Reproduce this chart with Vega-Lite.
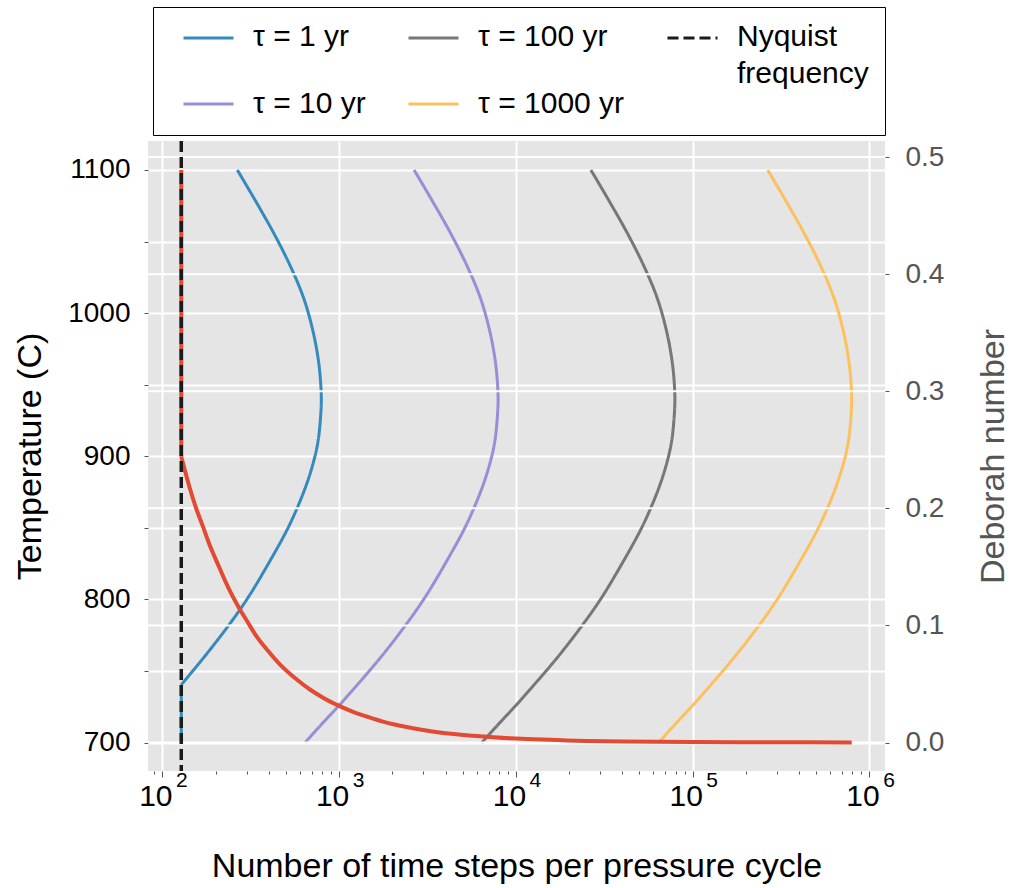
{
  "$schema": "https://vega.github.io/schema/vega-lite/v6.json",
  "width": 737,
  "height": 630,
  "autosize": "none",
  "padding": {"left": 148, "top": 141, "right": 129, "bottom": 117},
  "background": "white",
  "config": {
    "view": {"fill": "#E5E5E5", "stroke": null},
    "font": "Liberation Sans"
  },
  "datasets": {
    "curves": [
      {"series": "τ = 1 yr", "part": "curve", "temperature": 1100, "steps": 265.5},
      {"series": "τ = 1 yr", "part": "curve", "temperature": 1076.7, "steps": 342.8},
      {"series": "τ = 1 yr", "part": "curve", "temperature": 1053.4, "steps": 437.5},
      {"series": "τ = 1 yr", "part": "curve", "temperature": 1030.2, "steps": 542},
      {"series": "τ = 1 yr", "part": "curve", "temperature": 1009.2, "steps": 635.3},
      {"series": "τ = 1 yr", "part": "curve", "temperature": 985.9, "steps": 716.1},
      {"series": "τ = 1 yr", "part": "curve", "temperature": 965, "steps": 767.4},
      {"series": "τ = 1 yr", "part": "curve", "temperature": 948.6, "steps": 789},
      {"series": "τ = 1 yr", "part": "curve", "temperature": 939, "steps": 793},
      {"series": "τ = 1 yr", "part": "curve", "temperature": 930, "steps": 788},
      {"series": "τ = 1 yr", "part": "curve", "temperature": 911.4, "steps": 762.1},
      {"series": "τ = 1 yr", "part": "curve", "temperature": 897.4, "steps": 721.1},
      {"series": "τ = 1 yr", "part": "curve", "temperature": 881.2, "steps": 657.7},
      {"series": "τ = 1 yr", "part": "curve", "temperature": 864.8, "steps": 583.4},
      {"series": "τ = 1 yr", "part": "curve", "temperature": 848.5, "steps": 507},
      {"series": "τ = 1 yr", "part": "curve", "temperature": 827.6, "steps": 409.3},
      {"series": "τ = 1 yr", "part": "curve", "temperature": 801.9, "steps": 307.6},
      {"series": "τ = 1 yr", "part": "curve", "temperature": 782.2, "steps": 238.2},
      {"series": "τ = 1 yr", "part": "curve", "temperature": 760, "steps": 173},
      {"series": "τ = 1 yr", "part": "curve", "temperature": 740.4, "steps": 128},
      {"series": "τ = 1 yr", "part": "clip", "temperature": 740.4, "steps": 128},
      {"series": "τ = 1 yr", "part": "clip", "temperature": 700, "steps": 128},

      {"series": "τ = 10 yr", "part": "curve", "temperature": 1100, "steps": 2655},
      {"series": "τ = 10 yr", "part": "curve", "temperature": 1076.7, "steps": 3428},
      {"series": "τ = 10 yr", "part": "curve", "temperature": 1053.4, "steps": 4375},
      {"series": "τ = 10 yr", "part": "curve", "temperature": 1030.2, "steps": 5420},
      {"series": "τ = 10 yr", "part": "curve", "temperature": 1009.2, "steps": 6353},
      {"series": "τ = 10 yr", "part": "curve", "temperature": 985.9, "steps": 7161},
      {"series": "τ = 10 yr", "part": "curve", "temperature": 965, "steps": 7674},
      {"series": "τ = 10 yr", "part": "curve", "temperature": 948.6, "steps": 7890},
      {"series": "τ = 10 yr", "part": "curve", "temperature": 939, "steps": 7930},
      {"series": "τ = 10 yr", "part": "curve", "temperature": 930, "steps": 7880},
      {"series": "τ = 10 yr", "part": "curve", "temperature": 911.4, "steps": 7621},
      {"series": "τ = 10 yr", "part": "curve", "temperature": 897.4, "steps": 7211},
      {"series": "τ = 10 yr", "part": "curve", "temperature": 881.2, "steps": 6577},
      {"series": "τ = 10 yr", "part": "curve", "temperature": 864.8, "steps": 5834},
      {"series": "τ = 10 yr", "part": "curve", "temperature": 848.5, "steps": 5070},
      {"series": "τ = 10 yr", "part": "curve", "temperature": 827.6, "steps": 4093},
      {"series": "τ = 10 yr", "part": "curve", "temperature": 801.9, "steps": 3076},
      {"series": "τ = 10 yr", "part": "curve", "temperature": 782.2, "steps": 2382},
      {"series": "τ = 10 yr", "part": "curve", "temperature": 760, "steps": 1730},
      {"series": "τ = 10 yr", "part": "curve", "temperature": 741.4, "steps": 1288},
      {"series": "τ = 10 yr", "part": "curve", "temperature": 726.3, "steps": 1005},
      {"series": "τ = 10 yr", "part": "curve", "temperature": 713.5, "steps": 805},
      {"series": "τ = 10 yr", "part": "curve", "temperature": 700, "steps": 641},

      {"series": "τ = 100 yr", "part": "curve", "temperature": 1100, "steps": 26550},
      {"series": "τ = 100 yr", "part": "curve", "temperature": 1076.7, "steps": 34280},
      {"series": "τ = 100 yr", "part": "curve", "temperature": 1053.4, "steps": 43750},
      {"series": "τ = 100 yr", "part": "curve", "temperature": 1030.2, "steps": 54200},
      {"series": "τ = 100 yr", "part": "curve", "temperature": 1009.2, "steps": 63530},
      {"series": "τ = 100 yr", "part": "curve", "temperature": 985.9, "steps": 71610},
      {"series": "τ = 100 yr", "part": "curve", "temperature": 965, "steps": 76740},
      {"series": "τ = 100 yr", "part": "curve", "temperature": 948.6, "steps": 78900},
      {"series": "τ = 100 yr", "part": "curve", "temperature": 939, "steps": 79300},
      {"series": "τ = 100 yr", "part": "curve", "temperature": 930, "steps": 78800},
      {"series": "τ = 100 yr", "part": "curve", "temperature": 911.4, "steps": 76210},
      {"series": "τ = 100 yr", "part": "curve", "temperature": 897.4, "steps": 72110},
      {"series": "τ = 100 yr", "part": "curve", "temperature": 881.2, "steps": 65770},
      {"series": "τ = 100 yr", "part": "curve", "temperature": 864.8, "steps": 58340},
      {"series": "τ = 100 yr", "part": "curve", "temperature": 848.5, "steps": 50700},
      {"series": "τ = 100 yr", "part": "curve", "temperature": 827.6, "steps": 40930},
      {"series": "τ = 100 yr", "part": "curve", "temperature": 801.9, "steps": 30760},
      {"series": "τ = 100 yr", "part": "curve", "temperature": 782.2, "steps": 23820},
      {"series": "τ = 100 yr", "part": "curve", "temperature": 760, "steps": 17300},
      {"series": "τ = 100 yr", "part": "curve", "temperature": 741.4, "steps": 12880},
      {"series": "τ = 100 yr", "part": "curve", "temperature": 726.3, "steps": 10050},
      {"series": "τ = 100 yr", "part": "curve", "temperature": 713.5, "steps": 8050},
      {"series": "τ = 100 yr", "part": "curve", "temperature": 700, "steps": 6410},

      {"series": "τ = 1000 yr", "part": "curve", "temperature": 1100, "steps": 265500},
      {"series": "τ = 1000 yr", "part": "curve", "temperature": 1076.7, "steps": 342800},
      {"series": "τ = 1000 yr", "part": "curve", "temperature": 1053.4, "steps": 437500},
      {"series": "τ = 1000 yr", "part": "curve", "temperature": 1030.2, "steps": 542000},
      {"series": "τ = 1000 yr", "part": "curve", "temperature": 1009.2, "steps": 635300},
      {"series": "τ = 1000 yr", "part": "curve", "temperature": 985.9, "steps": 716100},
      {"series": "τ = 1000 yr", "part": "curve", "temperature": 965, "steps": 767400},
      {"series": "τ = 1000 yr", "part": "curve", "temperature": 948.6, "steps": 789000},
      {"series": "τ = 1000 yr", "part": "curve", "temperature": 939, "steps": 793000},
      {"series": "τ = 1000 yr", "part": "curve", "temperature": 930, "steps": 788000},
      {"series": "τ = 1000 yr", "part": "curve", "temperature": 911.4, "steps": 762100},
      {"series": "τ = 1000 yr", "part": "curve", "temperature": 897.4, "steps": 721100},
      {"series": "τ = 1000 yr", "part": "curve", "temperature": 881.2, "steps": 657700},
      {"series": "τ = 1000 yr", "part": "curve", "temperature": 864.8, "steps": 583400},
      {"series": "τ = 1000 yr", "part": "curve", "temperature": 848.5, "steps": 507000},
      {"series": "τ = 1000 yr", "part": "curve", "temperature": 827.6, "steps": 409300},
      {"series": "τ = 1000 yr", "part": "curve", "temperature": 801.9, "steps": 307600},
      {"series": "τ = 1000 yr", "part": "curve", "temperature": 782.2, "steps": 238200},
      {"series": "τ = 1000 yr", "part": "curve", "temperature": 760, "steps": 173000},
      {"series": "τ = 1000 yr", "part": "curve", "temperature": 741.4, "steps": 128800},
      {"series": "τ = 1000 yr", "part": "curve", "temperature": 726.3, "steps": 100500},
      {"series": "τ = 1000 yr", "part": "curve", "temperature": 713.5, "steps": 80500},
      {"series": "τ = 1000 yr", "part": "curve", "temperature": 700, "steps": 64100}
    ],
    "deborah": [
      {"part": "clip", "steps": 128, "deborah": 0.489},
      {"part": "clip", "steps": 128, "deborah": 0.244},
      {"part": "curve", "steps": 128, "deborah": 0.244},
      {"part": "curve", "steps": 143.5, "deborah": 0.2165},
      {"part": "curve", "steps": 155, "deborah": 0.2005},
      {"part": "curve", "steps": 170.6, "deborah": 0.1835},
      {"part": "curve", "steps": 185, "deborah": 0.169},
      {"part": "curve", "steps": 203.2, "deborah": 0.1545},
      {"part": "curve", "steps": 235, "deborah": 0.133},
      {"part": "curve", "steps": 269.2, "deborah": 0.116},
      {"part": "curve", "steps": 305, "deborah": 0.1025},
      {"part": "curve", "steps": 342, "deborah": 0.0905},
      {"part": "curve", "steps": 390, "deborah": 0.0795},
      {"part": "curve", "steps": 463.4, "deborah": 0.0665},
      {"part": "curve", "steps": 560, "deborah": 0.0553},
      {"part": "curve", "steps": 683.9, "deborah": 0.0453},
      {"part": "curve", "steps": 830, "deborah": 0.0375},
      {"part": "curve", "steps": 1002, "deborah": 0.0313},
      {"part": "curve", "steps": 1220, "deborah": 0.0257},
      {"part": "curve", "steps": 1496, "deborah": 0.0213},
      {"part": "curve", "steps": 2000, "deborah": 0.0158},
      {"part": "curve", "steps": 2871, "deborah": 0.0111},
      {"part": "curve", "steps": 3900, "deborah": 0.0081},
      {"part": "curve", "steps": 5741, "deborah": 0.0058},
      {"part": "curve", "steps": 9268, "deborah": 0.0036},
      {"part": "curve", "steps": 19360, "deborah": 0.0018},
      {"part": "curve", "steps": 40000, "deborah": 0.0009},
      {"part": "curve", "steps": 100000, "deborah": 0.0004},
      {"part": "curve", "steps": 300000, "deborah": 0.0002},
      {"part": "curve", "steps": 793000, "deborah": 0.0001}
    ],
    "deborahTicks": [
      {"deborah": 0}, {"deborah": 0.1}, {"deborah": 0.2},
      {"deborah": 0.3}, {"deborah": 0.4}, {"deborah": 0.5}
    ],
    "nyquist": [
      {"series": "Nyquist frequency", "steps": 128}
    ]
  },
  "layer": [
    {
      "data": {"name": "curves"},
      "mark": {"type": "line", "strokeWidth": 3, "interpolate": "catmull-rom"},
      "encoding": {
        "x": {
          "field": "steps", "type": "quantitative",
          "scale": {"type": "log", "domain": [82.99, 1224000], "nice": false},
          "axis": {
            "values": [90, 100, 200, 300, 400, 500, 600, 700, 800, 900, 1000, 2000, 3000, 4000, 5000, 6000, 7000, 8000, 9000, 10000, 20000, 30000, 40000, 50000, 60000, 70000, 80000, 90000, 100000, 200000, 300000, 400000, 500000, 600000, 700000, 800000, 900000, 1000000],
            "labelExpr": "indexof([100, 1000, 10000, 100000, 1000000], datum.value) >= 0 ? '10' : ''",
            "labelOverlap": false,
            "labelFlush": false,
            "labelFontSize": 30,
            "labelColor": "black",
            "labelPadding": 4,
            "labelOffset": -7,
            "domain": false,
            "grid": true,
            "gridColor": "white",
            "gridWidth": 2,
            "gridOpacity": {"condition": {"test": "indexof([100, 1000, 10000, 100000, 1000000], datum.value) >= 0", "value": 1}, "value": 0},
            "tickSize": {"condition": {"test": "indexof([100, 1000, 10000, 100000, 1000000], datum.value) >= 0", "value": 6}, "value": 3},
            "tickColor": "#555555",
            "title": "Number of time steps per pressure cycle",
            "titleFontSize": 34,
            "titleFontWeight": "normal",
            "titleColor": "black",
            "titlePadding": 38
          }
        },
        "y": {
          "field": "temperature", "type": "quantitative",
          "scale": {"domain": [680.2, 1120.2], "nice": false, "zero": false},
          "axis": {
            "values": [700, 750, 800, 850, 900, 950, 1000, 1050, 1100],
            "format": "d",
            "labelExpr": "datum.value % 100 == 0 ? datum.label : ''",
            "labelFontSize": 28,
            "labelColor": "black",
            "labelPadding": 14,
            "domain": false,
            "grid": true,
            "gridColor": "white",
            "gridWidth": 2,
            "tickSize": 4,
            "tickColor": "#555555",
            "title": "Temperature (C)",
            "titleFontSize": 34,
            "titleFontWeight": "normal",
            "titleColor": "black",
            "titlePadding": 20
          }
        },
        "color": {
          "field": "series", "type": "nominal",
          "scale": {
            "domain": ["τ = 1 yr", "τ = 10 yr", "τ = 100 yr", "τ = 1000 yr", "Nyquist frequency"],
            "range": ["#348ABD", "#988ED5", "#777777", "#FBC15E", "#1a1a1a"]
          },
          "legend": {
            "orient": "none",
            "legendX": 5,
            "legendY": -134,
            "title": null,
            "columns": 3,
            "gridAlign": "each",
            "clipHeight": 30,
            "strokeColor": "black",
            "fillColor": "white",
            "padding": 16,
            "cornerRadius": 0,
            "symbolType": "stroke",
            "symbolSize": 2500,
            "symbolStrokeWidth": 3,
            "symbolOffset": 13,
            "labelFontSize": 30,
            "labelColor": "black",
            "labelOffset": 18,
            "labelLimit": 400,
            "columnPadding": 28,
            "rowPadding": -29,
            "labelExpr": "datum.label == 'Nyquist frequency' ? ['Nyquist', 'frequency'] : (datum.label == 'τ = 1 yr' || datum.label == 'τ = 100 yr') ? [datum.label, ''] : datum.label",
            "encode": {
              "labels": {
                "update": {
                  "baseline": {"signal": "indexof(['Nyquist frequency', 'τ = 1 yr', 'τ = 100 yr'], datum.value) >= 0 ? 'alphabetic' : 'middle'"},
                  "dy": {"signal": "indexof(['Nyquist frequency', 'τ = 1 yr', 'τ = 100 yr'], datum.value) >= 0 ? 8 : 0"},
                  "lineHeight": {"value": 37}
                }
              }
            }
          }
        },
        "strokeDash": {
          "field": "series", "type": "nominal",
          "scale": {
            "domain": ["τ = 1 yr", "τ = 10 yr", "τ = 100 yr", "τ = 1000 yr", "Nyquist frequency"],
            "range": [[1, 0], [1, 0], [1, 0], [1, 0], [11, 5]]
          },
          "legend": {
            "orient": "none",
            "legendX": 5,
            "legendY": -134,
            "title": null,
            "columns": 3,
            "gridAlign": "each",
            "clipHeight": 30,
            "strokeColor": "black",
            "fillColor": "white",
            "padding": 16,
            "cornerRadius": 0,
            "symbolType": "stroke",
            "symbolSize": 2500,
            "symbolStrokeWidth": 3,
            "symbolOffset": 13,
            "labelFontSize": 30,
            "labelColor": "black",
            "labelOffset": 18,
            "labelLimit": 400,
            "columnPadding": 28,
            "rowPadding": -29,
            "labelExpr": "datum.label == 'Nyquist frequency' ? ['Nyquist', 'frequency'] : (datum.label == 'τ = 1 yr' || datum.label == 'τ = 100 yr') ? [datum.label, ''] : datum.label",
            "encode": {
              "labels": {
                "update": {
                  "baseline": {"signal": "indexof(['Nyquist frequency', 'τ = 1 yr', 'τ = 100 yr'], datum.value) >= 0 ? 'alphabetic' : 'middle'"},
                  "dy": {"signal": "indexof(['Nyquist frequency', 'τ = 1 yr', 'τ = 100 yr'], datum.value) >= 0 ? 8 : 0"},
                  "lineHeight": {"value": 37}
                }
              }
            }
          }
        },
        "detail": {"field": "part", "type": "nominal"},
        "order": {"field": "temperature", "type": "quantitative"}
      }
    },
    {
      "data": {"name": "deborahTicks"},
      "mark": {"type": "rule", "color": "white", "strokeWidth": 2},
      "encoding": {
        "y": {
          "field": "deborah", "type": "quantitative",
          "scale": {"domain": [-0.0243, 0.5137], "nice": false, "zero": false},
          "axis": {
            "orient": "right",
            "values": [0, 0.1, 0.2, 0.3, 0.4, 0.5],
            "format": ".1f",
            "labelFontSize": 28,
            "labelColor": "#555555",
            "labelPadding": 16,
            "domain": false,
            "grid": false,
            "tickSize": 4,
            "tickColor": "#555555",
            "title": "Deborah number",
            "titleFontSize": 34,
            "titleFontWeight": "normal",
            "titleColor": "#555555",
            "titleAngle": 270,
            "titleBaseline": "top",
            "titlePadding": 33
          }
        }
      }
    },
    {
      "data": {"name": "deborah"},
      "mark": {"type": "line", "color": "#E24A33", "strokeWidth": 4, "interpolate": "catmull-rom"},
      "encoding": {
        "x": {
          "field": "steps", "type": "quantitative",
          "scale": {"type": "log", "domain": [82.99, 1224000], "nice": false},
          "axis": null
        },
        "y": {
          "field": "deborah", "type": "quantitative",
          "scale": {"domain": [-0.0243, 0.5137], "nice": false, "zero": false},
          "axis": null
        },
        "detail": {"field": "part", "type": "nominal"},
        "order": {"field": "deborah", "type": "quantitative"}
      }
    },
    {
      "data": {"name": "nyquist"},
      "mark": {"type": "rule", "strokeWidth": 3.5},
      "encoding": {
        "x": {
          "field": "steps", "type": "quantitative",
          "scale": {"type": "log", "domain": [82.99, 1224000], "nice": false},
          "axis": null
        },
        "color": {"field": "series", "type": "nominal"},
        "strokeDash": {"field": "series", "type": "nominal"}
      }
    },
    {
      "data": {"name": "nyquist"},
      "mark": {"type": "rule", "opacity": 0},
      "encoding": {
        "x": {
          "field": "steps", "type": "quantitative",
          "scale": {"type": "log", "domain": [82.99, 1224000], "nice": false},
          "axis": {
            "orient": "bottom",
            "values": [100, 1000, 10000, 100000, 1000000],
            "labelExpr": "datum.value == 100 ? '2' : datum.value == 1000 ? '3' : datum.value == 10000 ? '4' : datum.value == 100000 ? '5' : '6'",
            "labelOverlap": false,
            "labelFlush": false,
            "labelFontSize": 21,
            "labelColor": "black",
            "labelBaseline": "alphabetic",
            "labelPadding": 15,
            "labelOffset": 19,
            "ticks": false,
            "tickSize": 0,
            "domain": false,
            "grid": false,
            "title": null
          }
        }
      }
    }
  ],
  "resolve": {"scale": {"x": "independent", "y": "independent"}}
}
